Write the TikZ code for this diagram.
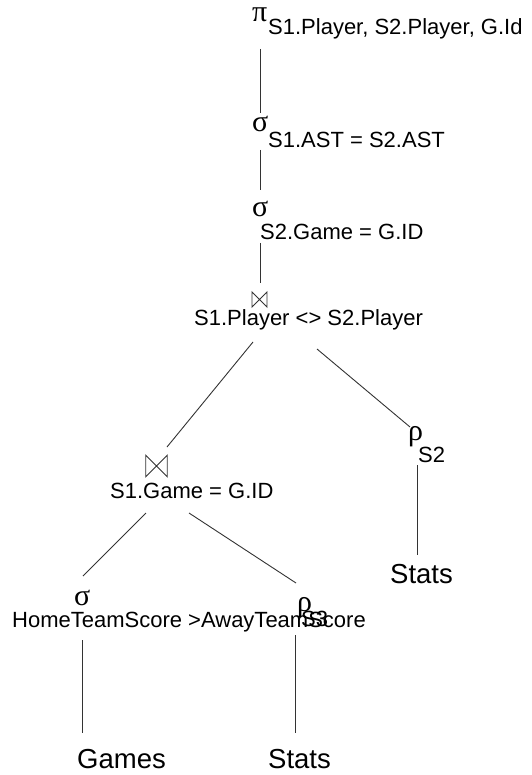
\documentclass[tikz,border=0pt]{standalone}
\usepackage{fontspec}
\setmainfont{Liberation Sans}
\newfontfamily\grk{Liberation Serif}
\begin{document}
\begin{tikzpicture}[x=1pt,y=-1pt,
  edge/.style={draw=black!80,line width=0.9pt},
  lbl/.style={inner sep=0pt,anchor=base west,font=\fontsize{22}{26}\selectfont},
  rel/.style={inner sep=0pt,anchor=base west,font=\fontsize{27.5}{32}\selectfont},
  op/.style={inner sep=0pt,anchor=base west,font=\grk\fontsize{30}{34}\selectfont},
  bowtie/.style={inner sep=0pt,outer sep=0pt,minimum width=#1,minimum height=#1}]
\useasboundingbox (0,0) rectangle (531,775);

% projection
\node[op]  (pi)   at (252,22)  {π};
\node[lbl] (pisub) at (268,35) {S1.Player, S2.Player, G.Id};
\coordinate (pi-b) at (260,49);

% selection on AST
\node[op]  (s1)    at (252,132) {σ};
\node[lbl] (s1sub) at (268,148) {S1.AST = S2.AST};
\coordinate (s1-t) at (260,113);
\coordinate (s1-b) at (260,150);

% selection on game id
\node[op]  (s2)    at (252,217) {σ};
\node[lbl] (s2sub) at (260,240) {S2.Game = G.ID};
\coordinate (s2-t) at (260,190);
\coordinate (s2-b) at (260,243);

% upper join
\node[bowtie=15pt] (j1) at (259.5,299.5) {};
\node[lbl] (j1sub) at (194,325) {S1.Player <> S2.Player};
\coordinate (j1-t) at (260,283);
\coordinate (j1-l) at (253,342);
\coordinate (j1-r) at (317,349);

% rename S2
\node[op]  (r2)    at (408,440) {ρ};
\node[lbl] (r2sub) at (418,462) {S2};
\coordinate (r2-t) at (410,427);
\coordinate (r2-b) at (417,465);
\node[rel] (stats1) at (390,583) {Stats};
\coordinate (stats1-t) at (417,555);

% lower join
\node[bowtie=21.5pt] (j2) at (156.5,466) {};
\node[lbl] (j2sub) at (110,498) {S1.Game = G.ID};
\coordinate (j2-t) at (167,447);
\coordinate (j2-l) at (146,513);
\coordinate (j2-r) at (189,513);

% selection on scores
\node[op]  (s3)    at (74,605) {σ};
\node[lbl] (s3sub) at (12,627) {HomeTeamScore >AwayTeamScore};
\coordinate (s3-t) at (83,576);
\coordinate (s3-b) at (82,640);

% rename S3
\node[op]  (r3)    at (297,611) {ρ};
\node[lbl] (r3sub) at (301,626) {S3};
\coordinate (r3-t) at (296,583);
\coordinate (r3-b) at (295,635);

% base relations
\node[rel] (games)  at (77,768)  {Games};
\node[rel] (stats2) at (268,768) {Stats};
\coordinate (games-t)  at (82,733);
\coordinate (stats2-t) at (295,733);

% bowtie glyphs
\draw[edge] (j1.north west) -- (j1.south west) -- (j1.north east) -- (j1.south east) -- cycle;
\draw[edge] (j2.north west) -- (j2.south west) -- (j2.north east) -- (j2.south east) -- cycle;

% tree edges
\draw[edge] (pi-b) -- (s1-t);
\draw[edge] (s1-b) -- (s2-t);
\draw[edge] (s2-b) -- (j1-t);
\draw[edge] (j1-l) -- (j2-t);
\draw[edge] (j1-r) -- (r2-t);
\draw[edge] (r2-b) -- (stats1-t);
\draw[edge] (j2-l) -- (s3-t);
\draw[edge] (j2-r) -- (r3-t);
\draw[edge] (s3-b) -- (games-t);
\draw[edge] (r3-b) -- (stats2-t);
\end{tikzpicture}
\end{document}
